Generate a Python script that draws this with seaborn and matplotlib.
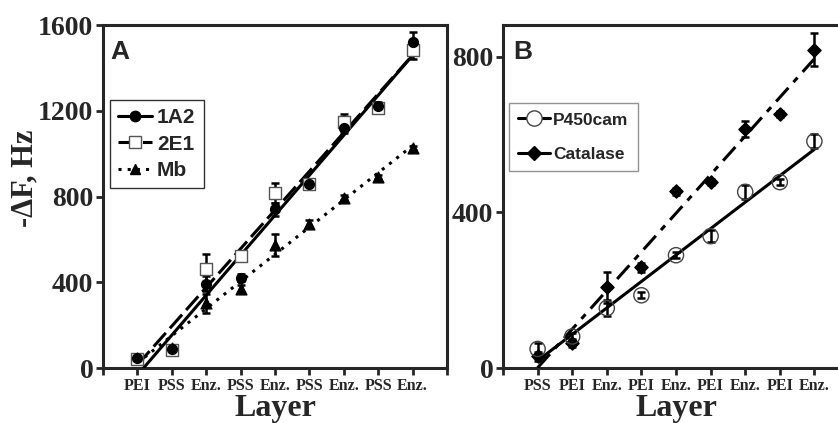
import numpy as np
import pandas as pd
import matplotlib
matplotlib.use("Agg")
import matplotlib.pyplot as plt
from matplotlib.lines import Line2D
import seaborn as sns

# ---- data ----
layer = [1, 2, 3, 4, 5, 6, 7, 8, 9]
labels_a = ["PEI", "PSS", "Enz.", "PSS", "Enz.", "PSS", "Enz.", "PSS", "Enz."]
labels_b = ["PSS", "PEI", "Enz.", "PEI", "Enz.", "PEI", "Enz.", "PEI", "Enz."]

# panel A (-dF, Hz)
a_1a2 = [45, 90, 394, 422, 740, 860, 1120, 1220, 1522]
a_1a2_err = [15, 15, 35, 15, 30, 20, 25, 20, 45]
a_2e1 = [44, 86, 464, 523, 817, 856, 1149, 1211, 1483]
a_2e1_err = [15, 15, 70, 15, 45, 20, 35, 15, 40]
a_mb = [48, 93, 302, 370, 573, 674, 795, 892, 1027]
a_mb_err = [15, 15, 45, 15, 50, 15, 10, 10, 10]

# panel B (-dF, Hz)
b_p450 = [49, 81, 154, 187, 290, 339, 453, 478, 583]
b_p450_err = [15, 8, 20, 8, 8, 15, 18, 8, 18]
b_cat = [30, 64, 208, 259, 454, 478, 615, 654, 819]
b_cat_err = [12, 10, 40, 12, 8, 8, 20, 8, 43]

sns.set_theme(style="ticks")
plt.rcParams["font.family"] = ["Liberation Serif", "DejaVu Serif"]
plt.rcParams["font.weight"] = "bold"
plt.rcParams["axes.linewidth"] = 2.2

fig = plt.figure(figsize=(8.38, 4.23), dpi=100)
ax_a = fig.add_axes([103 / 838, 55 / 423, 344 / 838, 343 / 423])
ax_b = fig.add_axes([503 / 838, 55 / 423, 346 / 838, 343 / 423])

LW = 2.2
EB = dict(fmt="none", ecolor="black", elinewidth=1.8, capsize=3, capthick=1.8, zorder=2)


def series(ax, y, err, marker, size, face, edge, ls):
    ax.errorbar(layer, y, yerr=err, **EB)
    sns.regplot(x=layer, y=y, scatter=False, ci=None, ax=ax,
                line_kws=dict(color="black", lw=LW, ls=ls, zorder=3))
    sns.scatterplot(x=layer, y=y, marker=marker, s=size, color=face,
                    edgecolor=edge, linewidth=1.0, ax=ax, zorder=4, legend=False)


# ---- Panel A ----
series(ax_a, a_mb, a_mb_err, "^", 60, "black", "black", (0, (1, 2)))
series(ax_a, a_2e1, a_2e1_err, "s", 70, "white", "#555555", (0, (6, 2)))
series(ax_a, a_1a2, a_1a2_err, "o", 50, "black", "black", "-")

ax_a.set_xlim(0, 10)
ax_a.set_ylim(0, 1600)
ax_a.set_yticks([0, 400, 800, 1200, 1600])
ax_a.set_xticks(range(0, 11))
ax_a.set_xticklabels([""] + labels_a + [""])
ax_a.set_ylabel("-\u0394F, Hz", fontsize=22, fontweight="bold")
ax_a.yaxis.set_label_coords(-0.185, 0.554)

handles_a = [
    Line2D([], [], color="black", lw=LW, ls="-", marker="o", ms=7.5,
           mfc="black", mec="black"),
    Line2D([], [], color="black", lw=LW, ls=(0, (6, 2)), marker="s", ms=8.5,
           mfc="white", mec="#555555"),
    Line2D([], [], color="black", lw=LW, ls=(0, (1, 2)), marker="^", ms=7.5,
           mfc="black", mec="black"),
]
leg_a = ax_a.legend(handles_a, ["1A2", "2E1", "Mb"], loc="upper left",
                    bbox_to_anchor=(0.02, 0.781), borderaxespad=0,
                    prop=dict(family="Liberation Sans", weight="bold", size=15),
                    frameon=True, fancybox=False, edgecolor="black",
                    handlelength=1.6, handletextpad=0.25, labelspacing=0.35,
                    borderpad=0.4)
leg_a.get_frame().set_linewidth(1.0)
ax_a.text(0.02, 0.955, "A", transform=ax_a.transAxes, ha="left", va="top",
          fontsize=19, fontweight="bold", family="Liberation Sans")

# ---- Panel B ----
series(ax_b, b_cat, b_cat_err, "D", 45, "black", "black", (0, (6, 2.5, 2, 2.5)))
series(ax_b, b_p450, b_p450_err, "o", 120, "none", "#444444", "-")

ax_b.set_xlim(0, 10)
ax_b.set_ylim(0, 882)
ax_b.set_yticks([0, 400, 800])
ax_b.set_xticks(range(0, 11))
ax_b.set_xticklabels([""] + labels_b + [""])

handles_b = [
    Line2D([], [], color="black", lw=LW, ls="-", marker="o", ms=11,
           mfc="white", mec="#444444", mew=1.0),
    Line2D([], [], color="black", lw=LW, ls="-", marker="D", ms=7,
           mfc="black", mec="black"),
]
leg_b = ax_b.legend(handles_b, ["P450cam", "Catalase"], loc="upper left",
                    bbox_to_anchor=(0.017, 0.773), borderaxespad=0,
                    prop=dict(family="Liberation Sans", weight="bold", size=12.5),
                    frameon=True, fancybox=False, edgecolor="#777777",
                    handlelength=1.8, handletextpad=0.2, labelspacing=1.1,
                    borderpad=0.55)
leg_b.get_frame().set_linewidth(1.0)
ax_b.text(0.03, 0.955, "B", transform=ax_b.transAxes, ha="left", va="top",
          fontsize=19, fontweight="bold", family="Liberation Sans")

for ax in (ax_a, ax_b):
    for sp in ax.spines.values():
        sp.set_visible(True)
        sp.set_linewidth(2.2)
    ax.tick_params(axis="y", direction="out", length=5, width=2, pad=2,
                   labelsize=20)
    ax.tick_params(axis="x", direction="out", length=5, width=2, pad=2,
                   labelsize=11.5)
    for t in ax.get_yticklabels() + ax.get_xticklabels():
        t.set_fontweight("bold")
    ax.set_xlabel("Layer", fontsize=23, fontweight="bold", labelpad=0)

fig.savefig("out.png", dpi=100)
